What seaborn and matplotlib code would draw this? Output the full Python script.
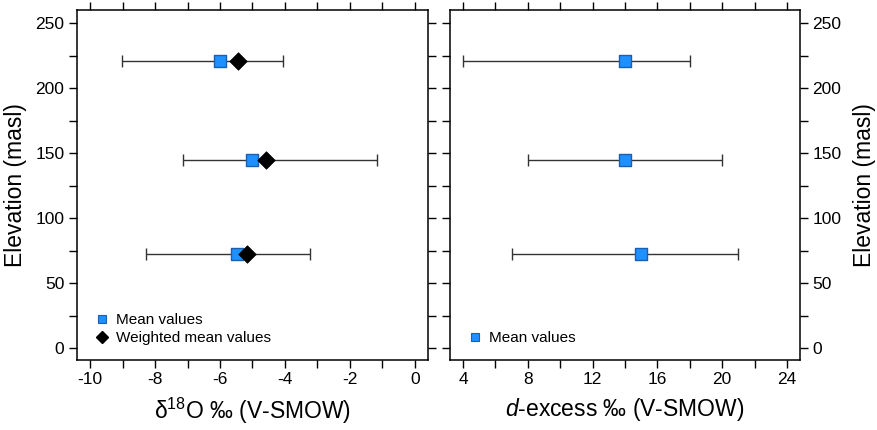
import matplotlib
matplotlib.use('Agg')
import matplotlib.pyplot as plt
from matplotlib.ticker import MultipleLocator
from matplotlib.lines import Line2D
import seaborn as sns
import pandas as pd

# ---- data ----
elevation = [221, 145, 72]
d18o_mean = [-6.0, -5.0, -5.48]
d18o_wmean = [-5.45, -4.58, -5.18]
d18o_low = [-9.03, -7.13, -8.28]
d18o_high = [-4.07, -1.18, -3.23]
dex_mean = [14.0, 14.0, 15.0]
dex_low = [4.0, 8.0, 7.0]
dex_high = [18.0, 20.0, 21.0]

legend_labels = ["Mean values", "Weighted mean values"]
xlabel_left = "δ$^{18}$O ‰ (V-SMOW)"
xlabel_right = "$d$-excess ‰ (V-SMOW)"
ylabel = "Elevation (masl)"

sns.set_theme(style="ticks")
plt.rcParams['font.family'] = ['Liberation Sans', 'DejaVu Sans']
plt.rcParams['mathtext.fontset'] = 'custom'
plt.rcParams['mathtext.rm'] = 'Liberation Sans'
plt.rcParams['mathtext.it'] = 'Liberation Sans:italic'
plt.rcParams['axes.unicode_minus'] = False
plt.rcParams['text.color'] = 'black'
plt.rcParams['axes.labelcolor'] = 'black'
plt.rcParams['xtick.color'] = 'black'
plt.rcParams['ytick.color'] = 'black'

BLUE = '#1E90FF'
BLUE_EDGE = '#1A5FB4'
ERR = '#333333'

fig = plt.figure(figsize=(8.78, 4.30), dpi=100)
axL = fig.add_axes([77/878, 70/430, 351/878, 350/430])
axR = fig.add_axes([450/878, 70/430, 350/878, 350/430])

dfL = pd.DataFrame({'elev': elevation, 'mean': d18o_mean, 'wmean': d18o_wmean,
                    'low': d18o_low, 'high': d18o_high})
dfR = pd.DataFrame({'elev': elevation, 'mean': dex_mean, 'low': dex_low, 'high': dex_high})

for ax, df in ((axL, dfL), (axR, dfR)):
    ax.errorbar(df['mean'], df['elev'],
                xerr=[df['mean'] - df['low'], df['high'] - df['mean']],
                fmt='none', ecolor=ERR, elinewidth=1.0, capsize=4, capthick=1.0, zorder=2)
    sns.scatterplot(data=df, x='mean', y='elev', marker='s', s=80, color=BLUE,
                    edgecolor=BLUE_EDGE, linewidth=1.0, ax=ax, zorder=3, legend=False)

sns.scatterplot(data=dfL, x='wmean', y='elev', marker='D', s=80, color='black',
                edgecolor='black', linewidth=0.5, ax=axL, zorder=4, legend=False)

axL.set_xlim(-10.4, 0.4)
axR.set_xlim(3.2, 24.8)
for ax in (axL, axR):
    ax.set_ylim(-9.2, 260)
    ax.yaxis.set_major_locator(MultipleLocator(50))
    ax.yaxis.set_minor_locator(MultipleLocator(25))
    for sp in ax.spines.values():
        sp.set_visible(True)
        sp.set_linewidth(1.1)
        sp.set_color('black')
    ax.tick_params(which='both', direction='out', length=5.5, width=1.0, color='black',
                   top=True, right=True, bottom=True, left=True, labelsize=12.5,
                   labelcolor='black')
    ax.set_facecolor('white')

axL.xaxis.set_major_locator(MultipleLocator(2))
axL.xaxis.set_minor_locator(MultipleLocator(1))
axR.xaxis.set_major_locator(MultipleLocator(4))
axR.xaxis.set_minor_locator(MultipleLocator(2))

axL.tick_params(labelleft=True, labelright=False)
axR.tick_params(labelleft=False, labelright=True)

axL.set_xlabel(xlabel_left, fontsize=16.5, labelpad=6, color='black')
axR.set_xlabel(xlabel_right, fontsize=16.5, labelpad=6, color='black')
axL.set_ylabel(ylabel, fontsize=16.5, labelpad=6, color='black')
axR.set_ylabel(ylabel, fontsize=16.5, labelpad=8, color='black')
axR.yaxis.set_label_position('right')

hL = [Line2D([], [], marker='s', linestyle='none', markersize=6, markerfacecolor=BLUE,
             markeredgecolor=BLUE_EDGE, markeredgewidth=0.8),
      Line2D([], [], marker='D', linestyle='none', markersize=6, markerfacecolor='black',
             markeredgecolor='black')]
for ax, n in ((axL, 2), (axR, 1)):
    leg = ax.legend(hL[:n], legend_labels[:n], loc='lower left', bbox_to_anchor=(0.02, 0.012),
                    frameon=False, fontsize=11, handlelength=1.0, handletextpad=0.4,
                    labelspacing=0.25, borderaxespad=0.3)
    for t in leg.get_texts():
        t.set_color('black')

fig.savefig('out.png', dpi=100)
